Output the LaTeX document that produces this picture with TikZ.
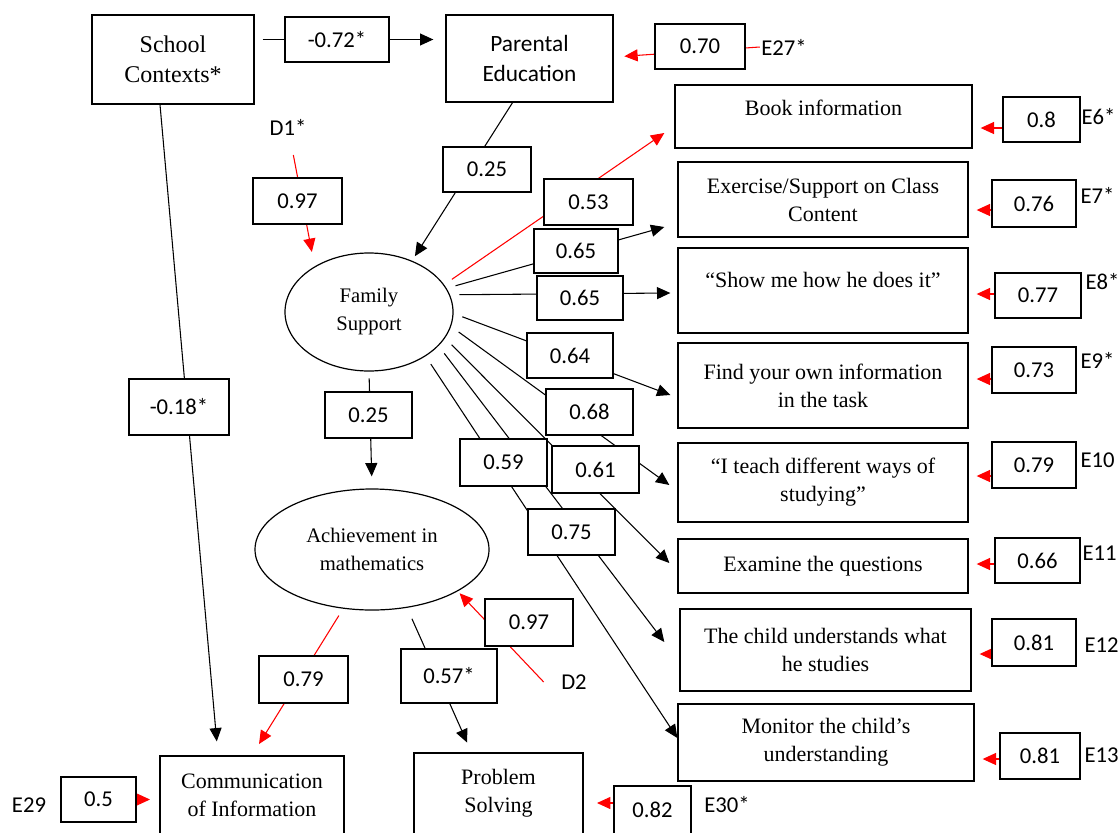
\documentclass[tikz,border=0pt]{standalone}
\usepackage{fontspec}
\setmainfont{Liberation Serif}
\newfontfamily\numfont{Carlito}
\usetikzlibrary{arrows.meta, calc, backgrounds, shapes.geometric}
\tikzset{
  boxsize/.style 2 args = {minimum width=#1*0.75pt, minimum height=#2*0.75pt},
  construct/.style = {rectangle, draw, line width=1pt, align=center,
                      inner sep=2pt, font=\fontsize{16.5}{21}\selectfont},
  latent/.style    = {ellipse, draw, line width=0.9pt, align=center,
                      inner sep=0pt, font=\fontsize{15.5}{21}\selectfont},
  coef/.style      = {rectangle, draw, fill=white, line width=1pt,
                      inner sep=0pt, font=\numfont\fontsize{17}{20}\selectfont},
  errlabel/.style  = {inner sep=1pt, font=\numfont\fontsize{17}{20}\selectfont},
  effect/.style    = {-{Triangle[length=10pt,width=9pt]}, line width=0.8pt},
  erreffect/.style = {effect, red}
}

\begin{document}
\begin{tikzpicture}[x=0.75pt, y=-0.75pt]
  \clip (0,0) rectangle (1119,832);

  % constructs
  \node (school) [construct, boxsize={162}{89}, font=\fontsize{18}{22.5}\selectfont] at (173,59.5) {School\\Contexts*};
  \node (parent) [construct, boxsize={167}{87}, font=\numfont\fontsize{17.5}{23}\selectfont] at (529.5,58.5) {Parental\\Education};
  \node (book)   [construct, boxsize={297}{63}, text depth=12.8pt] at (823.5,116.5) {Book information};
  \node (exer)   [construct, boxsize={290}{75}] at (823,199.5) {Exercise/Support on Class\\Content};
  \node (show)   [construct, boxsize={290}{85}, text depth=15.8pt] at (823,290.5) {“Show me how he does it”};
  \node (find)   [construct, boxsize={290}{85}] at (823,385.5) {Find your own information\\in the task};
  \node (teach)  [construct, boxsize={290}{79}] at (823,482.5) {“I teach different ways of\\studying”};
  \node (exam)   [construct, boxsize={290}{54}] at (823,566) {Examine the questions};
  \node (child)  [construct, boxsize={291}{82}] at (825.5,650) {The child understands what\\he studies};
  \node (monit)  [construct, boxsize={296}{77}] at (826,742.5) {Monitor the child’s\\understanding};
  \node (comm)   [construct, boxsize={184}{78}] at (252,795) {Communication\\of Information};
  \node (prob)   [construct, boxsize={169}{81}] at (498.5,793.5) {Problem\\Solving};

  % latent variables
  \node (fam) [latent, boxsize={168}{118}] at (369,312) {Family\\Support};
  \node (ach) [latent, boxsize={234}{121}] at (372,549.5) {Achievement in\\mathematics};

  % path coefficients
  \node (c72)  [coef, boxsize={104}{45}] at (337,39.5)    {-0.72*};
  \node (c70)  [coef, boxsize={90}{45}]  at (700,46.5)    {0.70};
  \node (c25a) [coef, boxsize={88}{45}]  at (487,169.5)   {0.25};
  \node (c97a) [coef, boxsize={89}{46}]  at (297.5,201)   {0.97};
  \node (c53)  [coef, boxsize={89}{46}]  at (588.5,202)   {0.53};
  \node (c65a) [coef, boxsize={84}{44}]  at (576,251)     {0.65};
  \node (c65b) [coef, boxsize={86}{44}]  at (580,298)     {0.65};
  \node (c64)  [coef, boxsize={86}{45}]  at (570,355.5)   {0.64};
  \node (c68)  [coef, boxsize={87}{46}]  at (589.5,412)   {0.68};
  \node (c18)  [coef, boxsize={100}{56}] at (179,407)     {-0.18*};
  \node (c25b) [coef, boxsize={87}{46}]  at (368.5,415)   {0.25};
  \node (c59)  [coef, boxsize={87}{47}]  at (503.5,462.5) {0.59};
  \node (c61)  [coef, boxsize={87}{47}]  at (595.5,469.5) {0.61};
  \node (c75)  [coef, boxsize={87}{46}]  at (571.5,532)   {0.75};
  \node (c97b) [coef, boxsize={88}{47}]  at (529,622.5)   {0.97};
  \node (c79)  [coef, boxsize={89}{47}]  at (303.5,679.5) {0.79};
  \node (c57)  [coef, boxsize={96}{54}]  at (449,676)     {0.57*};
  \node (c5)   [coef, boxsize={75}{45}]  at (98.5,799.5)  {0.5};
  \node (c82)  [coef, boxsize={77}{48}]  at (652.5,810)   {0.82};

  % error terms
  \node (c8)   [coef, boxsize={77}{45}] at (1041.5,119.5) {0.8};
  \node (c76)  [coef, boxsize={84}{47}] at (1034,203.5)   {0.76};
  \node (c77)  [coef, boxsize={86}{45}] at (1038,295.5)   {0.77};
  \node (c73)  [coef, boxsize={84}{46}] at (1034,370)     {0.73};
  \node (c79b) [coef, boxsize={84}{46}] at (1034,465)     {0.79};
  \node (c66)  [coef, boxsize={85}{45}] at (1037.5,560.5) {0.66};
  \node (c81a) [coef, boxsize={84}{47}] at (1034,642.5)   {0.81};
  \node (c81b) [coef, boxsize={80}{46}] at (1040,756)     {0.81};

  \node (d1)  [errlabel] at (288,127) {D1*};
  \node (d2)  [errlabel] at (574,682) {D2};
  \node (e27) [errlabel] at (784,47)  {E27*};
  \node (e29) [errlabel] at (29,805)  {E29};
  \node (e30) [errlabel] at (727,805) {E30*};
  \node (e6)  [errlabel, anchor=west] at (1080,117) {E6*};
  \node (e7)  [errlabel, anchor=west] at (1079,195) {E7*};
  \node (e8)  [errlabel, anchor=west] at (1084,282) {E8*};
  \node (e9)  [errlabel, anchor=west] at (1079,360) {E9*};
  \node (e10) [errlabel, anchor=west] at (1079,460) {E10};
  \node (e11) [errlabel, anchor=west] at (1081,553) {E11};
  \node (e12) [errlabel, anchor=west] at (1083,645) {E12};
  \node (e13) [errlabel, anchor=west] at (1083,755) {E13};

  \begin{scope}[on background layer]
    \fill[white] (0,0) rectangle (1119,832);

    % structural paths
    \draw[effect, shorten <=6pt, shorten >=9pt] (school.east |- c72) -- (parent.west |- c72);
    \draw[effect, shorten >=10.5pt] ($(school.south)+(-13,0)$) -- ($(comm.north)+(-34,0)$);
    \draw[effect, shorten >=4pt] ($(parent.south)+(-17,0)$) -- (fam.50);
    \draw[effect, shorten <=5pt, shorten >=9pt] (fam.south) -- (ach.north);
    \draw[erreffect, shorten <=6pt, shorten >=10pt] (ach.-116) -- (comm.north);
    \draw[effect, shorten <=9pt, shorten >=8pt] (ach.-59) -- ($(prob.north)+(-27,0)$);

    % disturbances
    \draw[erreffect, shorten <=14pt, shorten >=11pt] (d1) -- (fam.140);
    \draw[erreffect, shorten >=2pt] ($(d2.west)+(-16,0)$) -- (ach.-26);
    \draw[erreffect, shorten >=8pt] (e27.west) -- ($(parent.east)+(0,-1.5)$);
    \draw[erreffect, shorten >=7pt] (c5.east) -- (c5.east -| comm.west);
    \draw[erreffect, shorten >=10pt] ($(c82.west)+(0,-7)$) -- ($(prob.east)+(0,9.5)$);

    % loadings of family support
    \foreach \t/\a/\dx/\dy/\c in {book/20/-10/16.5/red, exer/17/-13/27.5/black,
        show/12/-7/2.5/black, find/-1/-7/9.5/black, teach/-10/-8/2.5/black,
        exam/-19/-8/-3/black, child/-26/-15/-8/black, monit/-38/0/-4.5/black}
      \draw[effect, \c, shorten <=7pt] (fam.\a) -- ($(\t.west)+(\dx,\dy)$);

    % measurement errors
    \foreach \e/\t/\ey/\ty in {c8/book/8.5/11.5, c76/exer/6.5/10.5, c77/show/-1.5/3.5,
        c73/find/9/-6.5, c79b/teach/11/-6.5, c66/exam/3.5/-2,
        c81a/child/11.5/4, c81b/monit/3/16.5}
      \draw[erreffect, shorten >=6pt] ($(\e.west)+(0,\ey)$) -- ($(\t.east)+(0,\ty)$);
  \end{scope}
\end{tikzpicture}
\end{document}
